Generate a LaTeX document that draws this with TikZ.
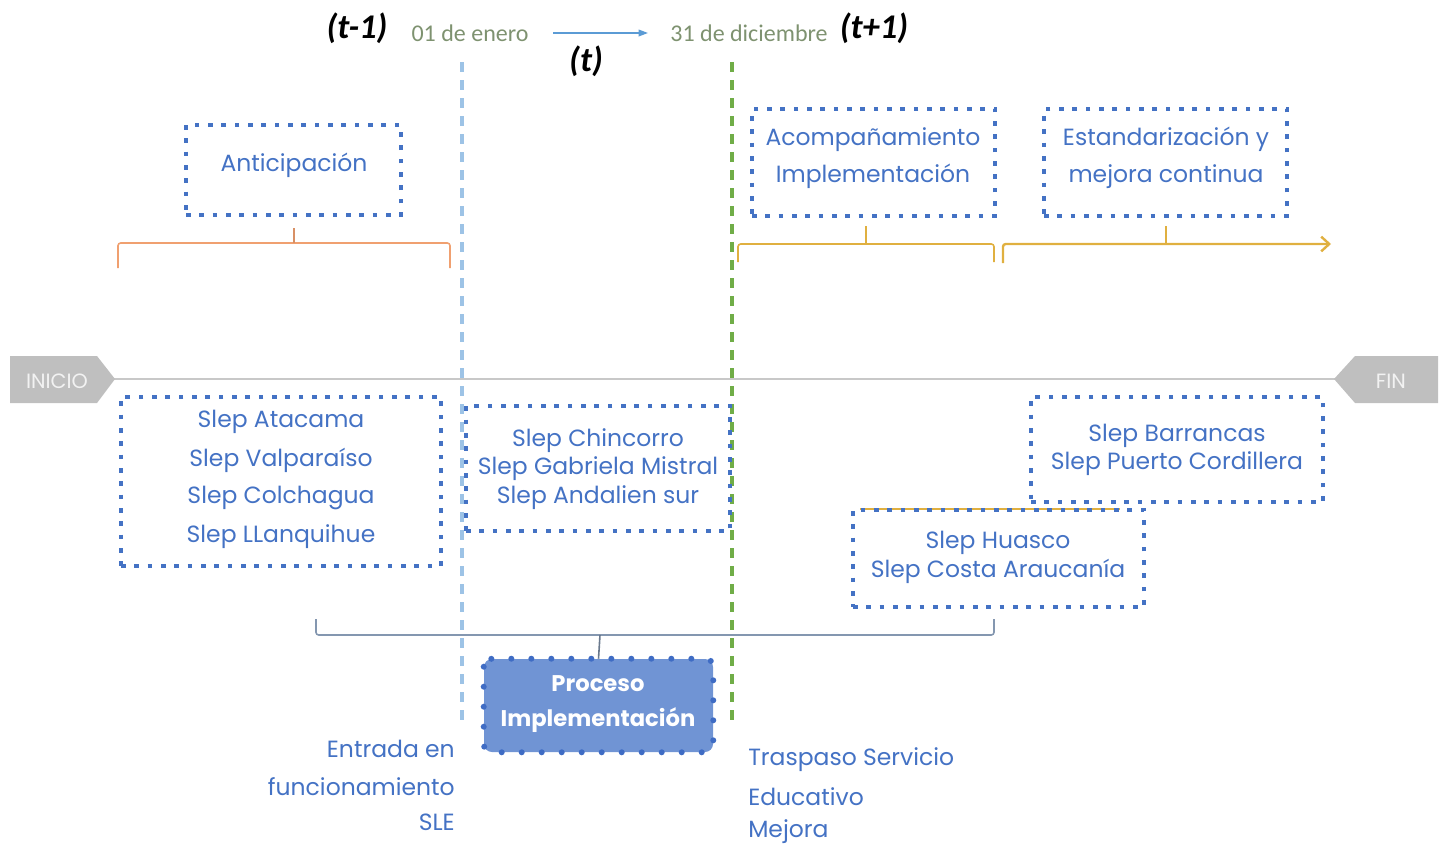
\documentclass[tikz,border=0pt]{standalone}
\usepackage{fontspec}
\setmainfont{Poppins}
\newfontfamily\calfont{Carlito}
\usetikzlibrary{arrows.meta}
\definecolor{tblue}{HTML}{4472C4}
\definecolor{dblue}{HTML}{9DC3E6}
\definecolor{dgreen}{HTML}{70AD47}
\definecolor{orng}{HTML}{F0A070}
\definecolor{gold}{HTML}{E0B040}
\definecolor{tgray}{HTML}{BFBFBF}
\definecolor{lgray}{HTML}{C8C8C8}
\definecolor{brgray}{HTML}{8497B0}
\definecolor{datec}{HTML}{7E9270}
\definecolor{procfill}{HTML}{7094D4}
\definecolor{procdot}{HTML}{3F6CC4}
\definecolor{arrc}{HTML}{5B9BD5}
\begin{document}
\begin{tikzpicture}[x=0.75pt,y=-0.75pt,
  dbox/.style={draw=tblue, line width=3.5pt, dash pattern=on 3.5pt off 6.5pt, inner sep=0pt},
  txt/.style={text=tblue, font=\fontsize{17.6}{20}\selectfont, inner sep=0pt, yshift=-1.8pt},
  vdash/.style={line width=2.4pt, dash pattern=on 7.5pt off 6pt},
  tlbl/.style={font=\calfont\bfseries\itshape\fontsize{26}{30}\selectfont, inner sep=0pt},
  dlbl/.style={font=\calfont\fontsize{18}{21}\selectfont, text=datec, inner sep=0pt},
  brk/.style={line width=1.2pt, rounded corners=2pt},
  tag/.style={fill=tgray, draw=none}]
\useasboundingbox (0,0) rectangle (1443,846);

% top labels
\node[tlbl] (tm1) at (357,28) {(t-1)};
\node[dlbl] (d1) at (470,33) {01 de enero};
\node[tlbl] (t0) at (586,61) {(t)};
\node[dlbl] (d2) at (749,33) {31 de diciembre};
\node[tlbl] (tp1) at (874,28) {(t+1)};
\coordinate (a1) at (553,33);
\coordinate (a2) at (648,33);
\draw[color=arrc, line width=1pt, -{Triangle[length=7pt,width=5pt]}] (a1) -- (a2);

% vertical dashed lines
\coordinate (vb1) at (462,62); \coordinate (vb2) at (462,722);
\coordinate (vg1) at (732,62); \coordinate (vg2) at (732,722);
\draw[vdash, dblue] (vb1) -- (vb2);
\draw[vdash, dgreen] (vg1) -- (vg2);

% timeline
\coordinate (tl1) at (110,379); \coordinate (tl2) at (1340,379);
\draw[lgray, line width=2pt] (tl1) -- (tl2);
\fill[tag] (10,356) -- (97,356) -- (115,379) -- (97,403) -- (10,403) -- cycle;
\node[text=white!90!gray, font=\fontsize{15.5}{18}\selectfont, inner sep=0pt] (ini) at (57,381) {INICIO};
\fill[tag] (1438,356) -- (1355,356) -- (1334,379) -- (1355,403) -- (1438,403) -- cycle;
\node[text=white!90!gray, font=\fontsize{15.5}{18}\selectfont, inner sep=0pt] (fin) at (1391,381) {FIN};

% upper boxes
\node[dbox, minimum width=215*0.75pt, minimum height=90*0.75pt] (antic) at (293.5,170) {};
\node[txt] (antict) at (294,163) {Anticipación};
\node[dbox, minimum width=243*0.75pt, minimum height=107*0.75pt] (acomp) at (873.5,162.5) {};
\node[txt] (acomp1) at (873,137) {Acompañamiento};
\node[txt] (acomp2) at (873,174) {Implementación};
\node[dbox, minimum width=243*0.75pt, minimum height=107*0.75pt] (estand) at (1165.5,162.5) {};
\node[txt] (est1) at (1166,137) {Estandarización y};
\node[txt] (est2) at (1166,174) {mejora continua};

% brackets upper
\coordinate (ob1) at (118,268); \coordinate (ob2) at (450,268); \coordinate (obt) at (294,228);
\draw[brk, orng] (ob1) |- (ob2 |- 0,243) -- (ob2);
\draw[orng!90!black, line width=1.5pt] (obt) -- (obt |- 0,243);
\coordinate (gb1) at (738,262); \coordinate (gb2) at (994,262); \coordinate (gbt) at (866,226);
\draw[brk, gold] (gb1) |- (gb2 |- 0,244) -- (gb2);
\draw[gold, line width=1.5pt] (gbt) -- (gbt |- 0,244);
\coordinate (hb1) at (1003,263); \coordinate (hb2) at (1331,244); \coordinate (hbt) at (1166,226);
\draw[brk, gold, line width=1.8pt, -{Straight Barb[length=6pt,width=11pt]}] (hb1) |- (hb2);
\draw[gold, line width=1.5pt] (hbt) -- (hbt |- 0,244);

% lower boxes
\node[dbox, minimum width=320*0.75pt, minimum height=169*0.75pt] (atac) at (281,481.5) {};
\node[txt] (s1) at (281,419) {Slep Atacama};
\node[txt] (s2) at (281,458) {Slep Valparaíso};
\node[txt] (s3) at (281,496) {Slep Colchagua};
\node[txt] (s4) at (281,534) {Slep LLanquihue};
\node[dbox, minimum width=264*0.75pt, minimum height=125*0.75pt] (chin) at (598,468.5) {};
\node[txt] (c1) at (598,438) {Slep Chincorro};
\node[txt] (c2) at (598,466) {Slep Gabriela Mistral};
\node[txt] (c3) at (598,495) {Slep Andalien sur};
\node[dbox, minimum width=292*0.75pt, minimum height=105*0.75pt] (barr) at (1177,449.5) {};
\node[txt] (b1) at (1177,433) {Slep Barrancas};
\node[txt] (b2) at (1177,461) {Slep Puerto Cordillera};
\draw[gold, line width=2pt] (860,509) -- (1120,509);
\node[dbox, minimum width=291*0.75pt, minimum height=97*0.75pt] (huas) at (998.5,558.5) {};
\node[txt] (h1) at (998,540) {Slep Huasco};
\node[txt] (h2) at (998,569) {Slep Costa Araucanía};

% bottom bracket
\coordinate (bb1) at (316,619); \coordinate (bb2) at (994,619); \coordinate (bbt) at (600,635);
\draw[brk, brgray] (bb1) |- (bb2 |- 0,635) -- (bb2);

% proceso
\node[fill=procfill, rounded corners=6pt, minimum width=229*0.75pt, minimum height=93*0.75pt, inner sep=0pt] (proc) at (598.5,705.5) {};
\draw[procdot, line width=4.5pt, line cap=round, dash pattern=on 0pt off 15pt, rounded corners=6pt] (proc.north west) rectangle (proc.south east);
\node[text=white, font=\bfseries\fontsize{17}{20}\selectfont, inner sep=0pt] (p1) at (598,684) {Proceso};
\node[text=white, font=\bfseries\fontsize{17}{20}\selectfont, inner sep=0pt] (p2) at (598,720) {Implementación};
\draw[brgray!80!black, line width=1.2pt] (bbt) -- (proc.north);

% bottom labels
\node[txt, anchor=east] (e1) at (455,747) {Entrada en};
\node[txt, anchor=east] (e2) at (455,784) {funcionamiento};
\node[txt, anchor=east] (e3) at (455,820) {SLE};
\node[txt, anchor=west] (tr1) at (748,757) {Traspaso Servicio};
\node[txt, anchor=west] (tr2) at (748,794) {Educativo};
\node[txt, anchor=west] (tr3) at (748,829) {Mejora};
\end{tikzpicture}
\end{document}
